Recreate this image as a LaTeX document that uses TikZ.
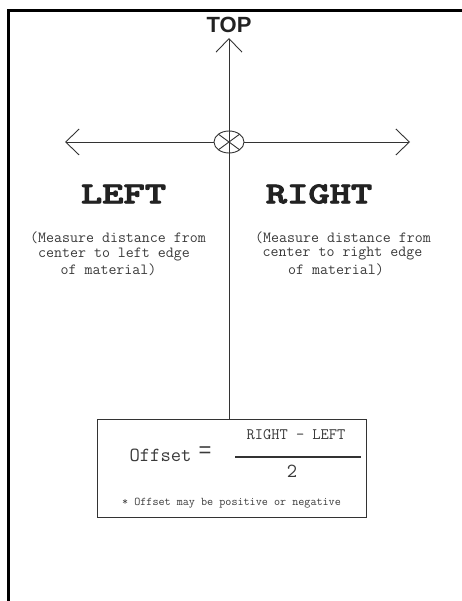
\documentclass[tikz,border=0pt]{standalone}
\usepackage{fontspec}
\setmainfont{Liberation Serif}
\setsansfont{Liberation Sans}
\newfontfamily\headfont{lmmonolt10-bold.otf}[FakeBold=2.5]
\usetikzlibrary{arrows.meta,calc,shapes.geometric}
\definecolor{linec}{HTML}{333333}
\definecolor{textc}{HTML}{3A3A3A}
\definecolor{headc}{HTML}{222222}
\newcommand{\headtxt}[1]{\scalebox{1.04}[0.78]{#1}}
\tikzset{
  thinline/.style={draw=linec, line width=0.9pt},
  chev/.style={-{Straight Barb[length=13.5pt,width=26pt,line width=0.9pt]}},
  head/.style={font=\headfont\fontsize{39}{39}\selectfont, text=headc, inner sep=0pt},
  desc/.style={font=\ttfamily\fontsize{15.5}{16}\selectfont, text=textc, inner sep=0pt},
}
\begin{document}
\begin{tikzpicture}[x=1pt,y=-1pt]
\useasboundingbox (0,0) rectangle (462,601);
% frame
\draw[line width=2.6pt, black] (8.7,601) -- (8.7,10.7) -- (462,10.7);
% TOP
\node[font=\sffamily\bfseries\fontsize{22}{22}\selectfont, text=headc, inner sep=0pt] (top) at (229,25) {TOP};
% center marker
\node[draw=linec, line width=0.9pt, ellipse, minimum width=30pt, minimum height=22pt, inner sep=0pt] (c) at (229,142) {};
\coordinate (tt) at (229,38);
\coordinate (lt) at (65,142);
\coordinate (rt) at (410,142);
\draw[thinline] ($(c.center)+(-10.6,-7.8)$) -- ($(c.center)+(10.6,7.8)$);
\draw[thinline] ($(c.center)+(-10.6,7.8)$) -- ($(c.center)+(10.6,-7.8)$);
% box
\node[draw=linec, line width=1pt, minimum width=269pt, minimum height=98pt, inner sep=0pt] (box) at (231.5,468) {};
% axes
\draw[thinline, chev] (box.north -| c) -- (tt);
\draw[thinline, chev] (c.west) -- (lt);
\draw[thinline, chev] (c.east) -- (rt);
% headings
\node[head] (left) at (123.5,194) {\headtxt{LEFT}};
\node[head] (right) at (319,194) {\headtxt{RIGHT}};
% descriptions
\node[desc] (l1) at (118,238) {(Measure distance from};
\node[desc] (l2) at (114,254) {center to left edge};
\node[desc] (l3) at (108.5,270) {of material)};
\node[desc] (r1) at (343,238) {(Measure distance from};
\node[desc] (r2) at (342.5,254) {center to right edge};
\node[desc] (r3) at (336,270) {of material)};
% formula
\node[font=\ttfamily\fontsize{20}{20}\selectfont, text=textc, inner sep=0pt] (off) at (160.5,455) {Offset};
\node[font=\sffamily\fontsize{22}{22}\selectfont, text=textc, inner sep=0pt] (eq) at (205,452) {=};
\coordinate (fa) at (235,457);
\coordinate (fb) at (361,457);
\draw[draw=linec, line width=1.6pt] (fa) -- (fb);
\node[font=\ttfamily\fontsize{16}{16}\selectfont, text=textc, inner sep=0pt] (num) at (296,435) {RIGHT - LEFT};
\node[font=\ttfamily\fontsize{20}{20}\selectfont, text=textc, inner sep=0pt] (den) at (292,471) {2};
\node[font=\ttfamily\fontsize{11.8}{11.8}\selectfont, text=textc, inner sep=0pt] (note) at (231.5,503) {* Offset may be positive or negative};
\end{tikzpicture}
\end{document}
